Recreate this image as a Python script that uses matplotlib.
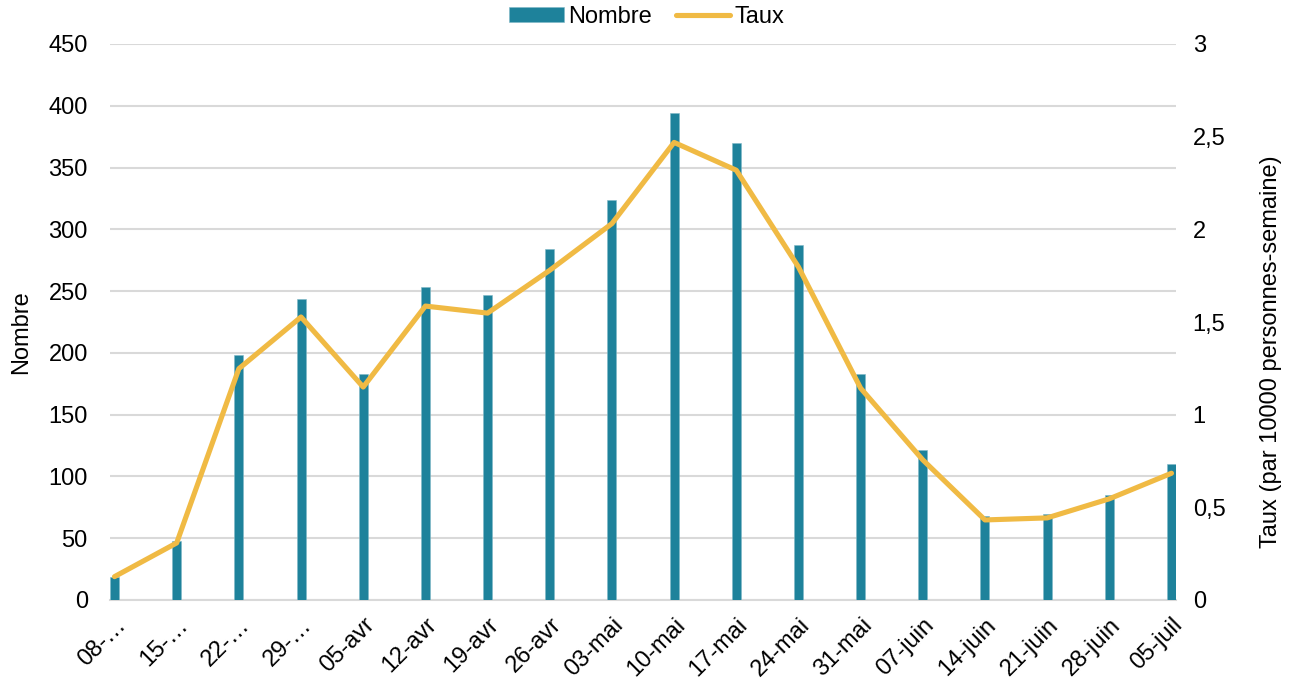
import matplotlib
matplotlib.use("Agg")
import matplotlib.pyplot as plt
from matplotlib.ticker import FuncFormatter, MultipleLocator
import numpy as np

plt.rcParams['font.family'] = ['Liberation Sans', 'DejaVu Sans']

semaines = ["08-…", "15-…", "22-…", "29-…", "05-avr", "12-avr", "19-avr", "26-avr",
            "03-mai", "10-mai", "17-mai", "24-mai", "31-mai", "07-juin", "14-juin",
            "21-juin", "28-juin", "05-juil"]
nombre = [19, 48, 198, 244, 183, 253, 247, 284, 324, 394, 370, 287, 183, 121, 68, 70, 85, 110]
taux = [0.126, 0.308, 1.248, 1.527, 1.149, 1.586, 1.548, 1.779, 2.031, 2.469, 2.319,
        1.797, 1.143, 0.756, 0.432, 0.443, 0.546, 0.684]

BAR_COLOR = "#1e829b"
LINE_COLOR = "#f0ba44"
GRID_COLOR = "#d9d9d9"
FS = 17

fig = plt.figure(figsize=(12.95, 6.84), dpi=100)
ax = fig.add_axes([110 / 1295, 1 - 600 / 684, (1176 - 110) / 1295, (600 - 44) / 684])
ax2 = ax.twinx()

x = np.arange(len(semaines))
bw = 0.145
bars = ax.bar(x, nombre, width=bw, color=BAR_COLOR, edgecolor="#7fb8c7",
              linewidth=0.4, zorder=2, label="Nombre")
line, = ax2.plot(x, taux, color=LINE_COLOR, linewidth=3.7, solid_joinstyle="round",
                 solid_capstyle="round", zorder=3, label="Taux")

ax.set_xlim(-bw / 2, len(semaines) - 1 + bw / 2)
ax.set_ylim(0, 450)
ax2.set_ylim(0, 3)
ax.yaxis.set_major_locator(MultipleLocator(50))
ax2.yaxis.set_major_locator(MultipleLocator(0.5))
ax2.yaxis.set_major_formatter(FuncFormatter(lambda v, p: f"{v:g}".replace(".", ",")))

ax.grid(axis="y", color=GRID_COLOR, linewidth=1.5, zorder=0)
ax.set_axisbelow(True)
for a in (ax, ax2):
    for s in a.spines.values():
        s.set_visible(False)
ax.spines["bottom"].set_visible(True)
ax.spines["bottom"].set_color(GRID_COLOR)
ax.spines["bottom"].set_linewidth(1.5)
ax.spines["bottom"].set_zorder(0)

ax.set_xticks(x)
ax.set_xticklabels(semaines, rotation=45, ha="right", rotation_mode="anchor", fontsize=FS)
ax.tick_params(axis="x", length=0, pad=10)
ax.tick_params(axis="y", length=0, pad=16, labelsize=FS)
ax2.tick_params(axis="y", length=0, pad=12, labelsize=FS)

ax.set_ylabel("Nombre", fontsize=FS)
ax2.set_ylabel("Taux (par 10000 personnes-semaine)", fontsize=FS)
ax.yaxis.set_label_coords(-0.0732, 0.482)
ax2.yaxis.set_label_coords(1.0788, 0.446)

ax2.set_zorder(ax.get_zorder() + 1)
ax2.patch.set_visible(False)

fig.legend(handles=[bars, line], labels=["Nombre", "Taux"], loc="center",
           bbox_to_anchor=(647 / 1295, 1 - 17 / 684), ncol=2, frameon=False,
           fontsize=FS, handlelength=2.3, handleheight=0.6, handletextpad=0.2,
           columnspacing=1.0)

fig.savefig("out.png", dpi=100)
